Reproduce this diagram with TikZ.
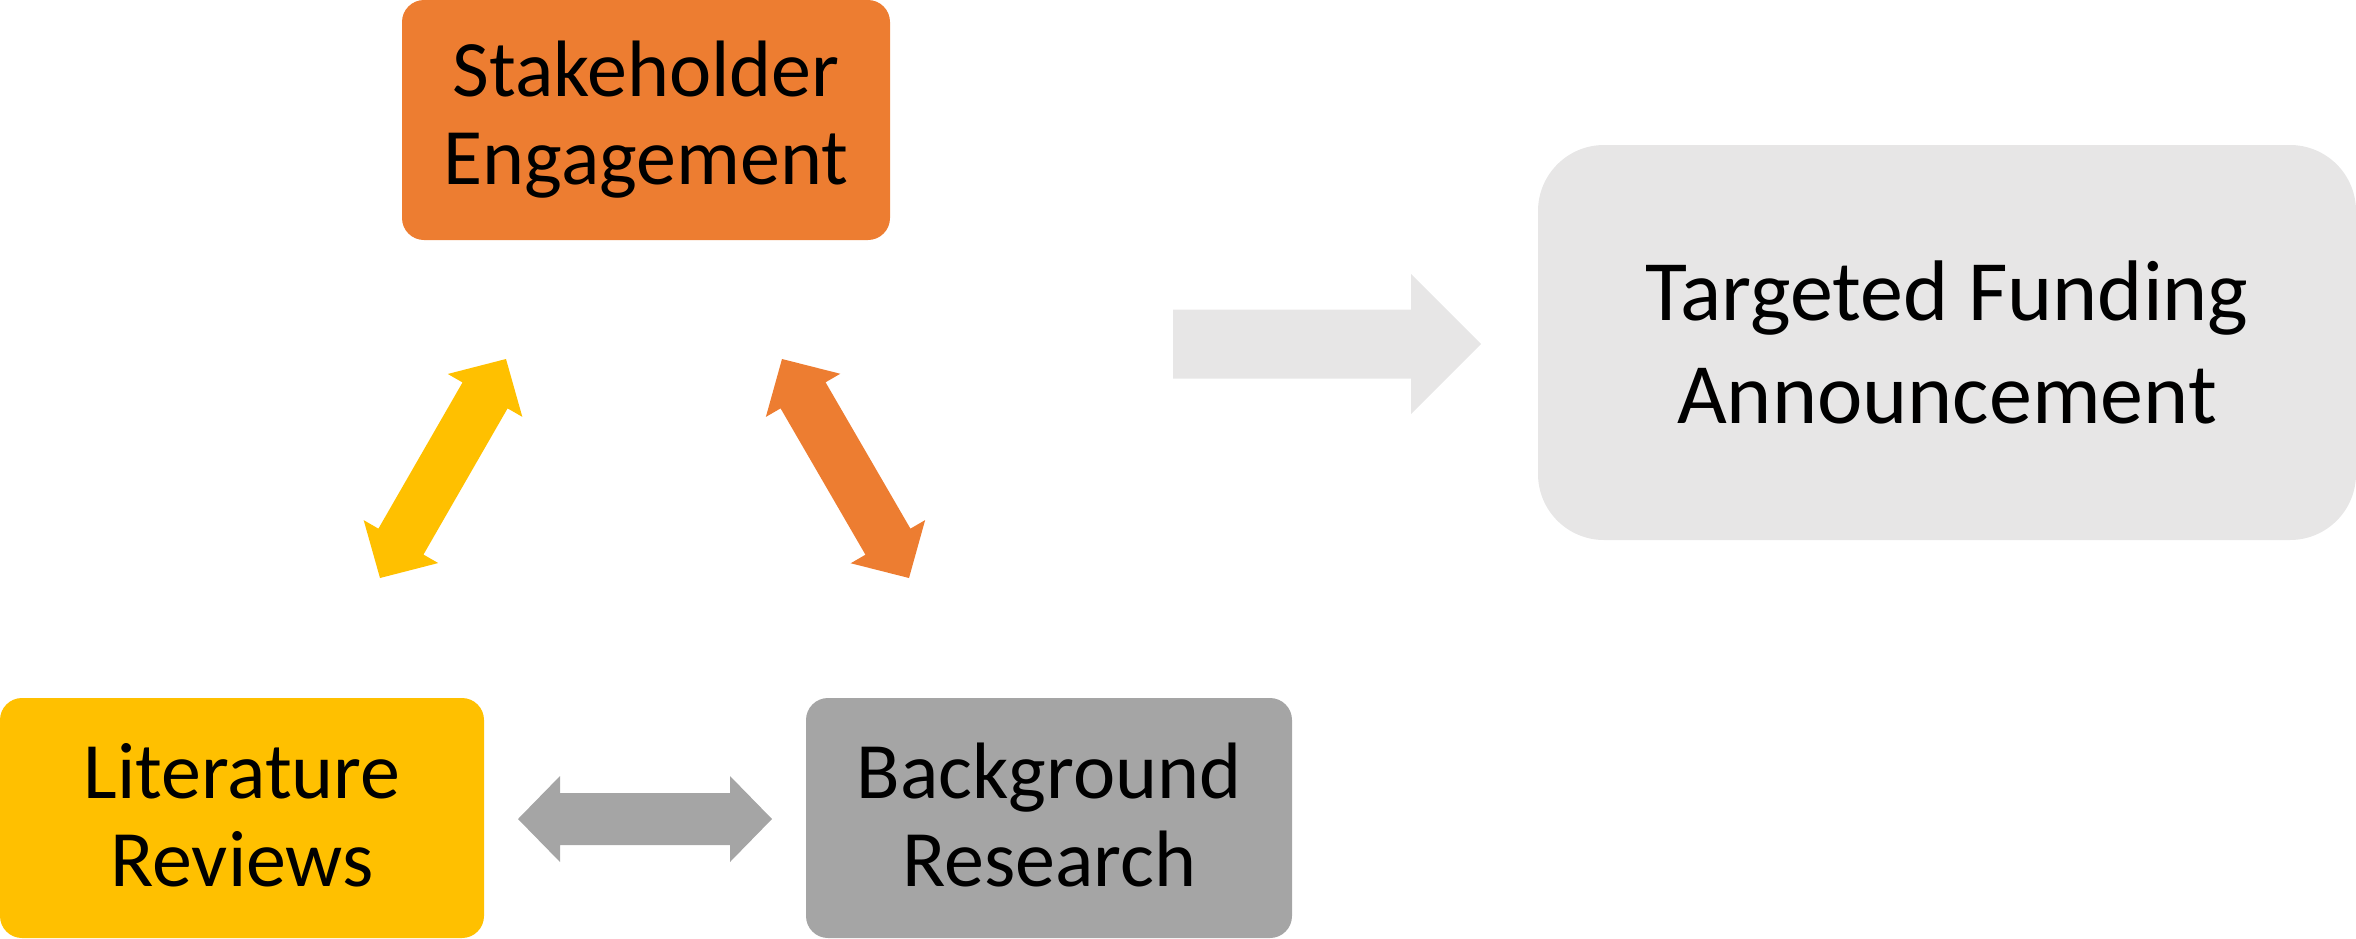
\documentclass[tikz,border=0pt]{standalone}
\usepackage{fontspec}
\setmainfont{Carlito}
\usetikzlibrary{calc}
\definecolor{sorange}{HTML}{ED7D31}
\definecolor{syellow}{HTML}{FFC000}
\definecolor{sgray}{HTML}{A5A5A5}
\definecolor{slight}{HTML}{E7E6E6}
% double-headed block arrow between two tip coordinates
\newcommand\dblblock[3]{%
  \path ($(#1)!21pt!(#2)$) coordinate (h1) ($(#2)!21pt!(#1)$) coordinate (h2);
  \fill[#3] (#1) -- ($(h1)!21.5pt!90:(#2)$) -- ($(h1)!13pt!90:(#2)$)
    -- ($(h2)!13pt!-90:(#1)$) -- ($(h2)!21.5pt!-90:(#1)$) -- (#2)
    -- ($(h2)!21.5pt!90:(#1)$) -- ($(h2)!13pt!90:(#1)$)
    -- ($(h1)!13pt!-90:(#2)$) -- ($(h1)!21.5pt!-90:(#2)$) -- cycle;}
\newcommand\lowstrut{\rule[-3pt]{0pt}{3pt}}
\begin{document}
\begin{tikzpicture}[x=0.5pt,y=-0.5pt,
  box/.style={rounded corners=11pt, inner sep=0pt, align=center, text=black,
    font=\fontsize{40}{44}\selectfont},
  bigbox/.style={rounded corners=33pt, inner sep=0pt, align=center, text=black,
    font=\fontsize{43}{51.3}\selectfont}]
\useasboundingbox (0,0) rectangle (2356,938);
% boxes
\node[box, fill=sorange, minimum width=244pt, minimum height=120pt] (stake) at (646,120) {Stakeholder\\Engagement};
\node[box, fill=syellow, minimum width=242pt, minimum height=120pt] (lit) at (242,818) {Literature\\Reviews\lowstrut};
\node[box, fill=sgray, minimum width=243pt, minimum height=120pt] (back) at (1049,818) {Background\\Research\lowstrut};
\node[bigbox, fill=slight, minimum width=409pt, minimum height=197.5pt] (fund) at (1947,342.5) {Targeted Funding\\Announcement};
% arrow tips
\coordinate (ya) at (506,359);
\coordinate (yb) at (380,578);
\coordinate (oa) at (782,359);
\coordinate (ob) at (909,578);
\coordinate (ga) at (518,819);
\coordinate (gb) at (772,819);
\coordinate (ft) at (1173,344);
\coordinate (fp) at (1481,344);
\dblblock{ya}{yb}{syellow}
\dblblock{oa}{ob}{sorange}
\dblblock{ga}{gb}{sgray}
\fill[slight] ($(ft)+(0,-34.5)$) -- ($(fp)+(-70,-34.5)$) -- ($(fp)+(-70,-70)$) -- (fp)
  -- ($(fp)+(-70,70)$) -- ($(fp)+(-70,34.5)$) -- ($(ft)+(0,34.5)$) -- cycle;
\end{tikzpicture}
\end{document}
